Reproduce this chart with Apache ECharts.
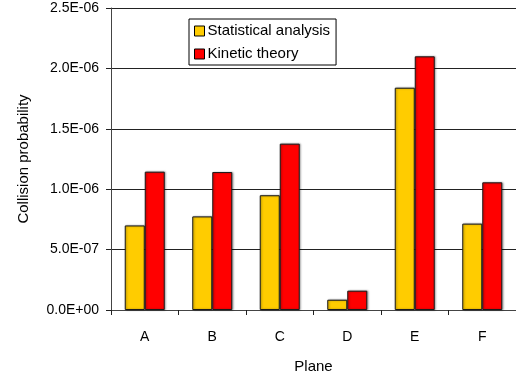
<!DOCTYPE html>
<html>
<head>
<meta charset="utf-8">
<script src="https://cdn.jsdelivr.net/npm/echarts@6/dist/echarts.min.js"></script>
<style>
  html, body { margin: 0; padding: 0; background: #fff; }
  #chart { width: 516px; height: 379px; }
</style>
</head>
<body>
<div id="chart"></div>
<script>
// Collision probability per plane, two estimation methods
const planes = ['A', 'B', 'C', 'D', 'E', 'F'];
const statisticalAnalysis = [7.0e-7, 7.75e-7, 9.5e-7, 8.5e-8, 1.84e-6, 7.15e-7];
const kineticTheory = [1.145e-6, 1.142e-6, 1.377e-6, 1.6e-7, 2.1e-6, 1.057e-6];
const seriesNames = ['Statistical analysis', 'Kinetic theory'];

const FONT = '"Liberation Sans", Arial, sans-serif';

function sci(v) {
  // Excel-style scientific label, e.g. 2.5E-06
  const s = Number(v).toExponential(1).toUpperCase();
  const m = s.match(/^(-?[\d.]+)E([+-])(\d+)$/);
  if (!m) return s;
  return m[1] + 'E' + m[2] + (m[3].length < 2 ? '0' + m[3] : m[3]);
}

const barStyle = (color) => ({
  color: color,
  borderColor: '#1a1a1a',
  borderWidth: 1,
  shadowColor: 'rgba(0,0,0,0.35)',
  shadowBlur: 2,
  shadowOffsetX: 1,
  shadowOffsetY: 0
});

const chart = echarts.init(document.getElementById('chart'), null, { renderer: 'canvas' });
chart.setOption({
  animation: false,
  backgroundColor: '#fff',
  textStyle: { fontFamily: FONT },
  grid: { left: 111, top: 8, width: 411, height: 302, containLabel: false },
  legend: {
    orient: 'vertical',
    left: 189,
    top: 19,
    padding: [3, 6, 2, 5],
    itemGap: 5,
    itemWidth: 10,
    itemHeight: 10,
    borderColor: '#000',
    borderWidth: 1,
    backgroundColor: '#fff',
    icon: 'rect',
    itemStyle: { shadowColor: 'transparent', shadowBlur: 0, borderColor: '#000', borderWidth: 1 },
    textStyle: { fontFamily: FONT, fontSize: 15, color: '#000', lineHeight: 18, padding: [0, 0, 0, -2] },
    data: seriesNames
  },
  xAxis: {
    type: 'category',
    data: planes,
    name: 'Plane',
    nameLocation: 'middle',
    nameGap: 49,
    nameTextStyle: { fontFamily: FONT, fontSize: 15, color: '#000' },
    axisLine: { lineStyle: { color: '#444', width: 1 } },
    axisTick: { show: true, length: 5, lineStyle: { color: '#222' } },
    axisLabel: { fontFamily: FONT, fontSize: 14, color: '#000', margin: 20 },
    splitLine: { show: false }
  },
  yAxis: {
    type: 'value',
    min: 0,
    max: 2.5e-6,
    interval: 5e-7,
    name: 'Collision probability',
    nameLocation: 'middle',
    nameGap: 80,
    nameRotate: 90,
    nameTextStyle: { fontFamily: FONT, fontSize: 15, color: '#000' },
    axisLine: { show: true, lineStyle: { color: '#444', width: 1 } },
    axisTick: { show: true, length: 5, lineStyle: { color: '#222' } },
    axisLabel: { fontFamily: FONT, fontSize: 14, color: '#000', margin: 12, formatter: sci },
    splitLine: { show: true, lineStyle: { color: '#222', width: 1 } }
  },
  series: [
    {
      name: seriesNames[0],
      type: 'bar',
      data: statisticalAnalysis,
      barWidth: 20,
      barGap: '0%',
      itemStyle: barStyle('#FFCC00')
    },
    {
      name: seriesNames[1],
      type: 'bar',
      data: kineticTheory,
      barWidth: 20,
      barGap: '0%',
      itemStyle: barStyle('#FF0000')
    }
  ]
});
</script>
</body>
</html>
